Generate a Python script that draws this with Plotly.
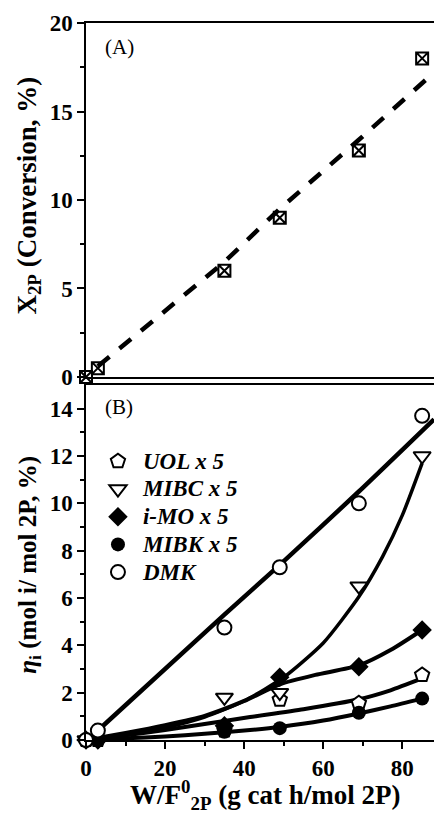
import plotly.graph_objects as go

# ---------------- data ----------------
wf = [0, 3, 35, 49, 69, 85]
x2p = [0, 0.5, 6.0, 9.0, 12.8, 18.0]

fit_a_x = [3, 35, 49, 69, 88]
fit_a_y = [0.6, 6.5, 9.5, 13.4, 17.2]

uol = [0, 0, 0.4, 1.7, 1.55, 2.75]
mibc = [0, 0, 1.8, 2.0, 6.5, 12.0]
imo = [0, 0, 0.6, 2.65, 3.1, 4.65]
mibk = [0, 0, 0.35, 0.5, 1.15, 1.75]
dmk = [0, 0.4, 4.75, 7.3, 10.0, 13.7]

dmk_fit_x = [3, 35, 49, 69, 88]
dmk_fit_y = [0.4, 5.3, 7.4, 10.5, 13.55]
mibc_fit_x = [0, 10, 20, 30, 40, 50, 60, 69, 75, 80, 85]
mibc_fit_y = [0, 0.21, 0.52, 0.97, 1.65, 2.65, 4.1, 6.05, 7.75, 9.5, 11.7]
imo_fit_x = [0, 10, 20, 30, 40, 49, 58, 69, 77, 85]
imo_fit_y = [0, 0.3, 0.63, 1.02, 1.65, 2.35, 2.75, 3.15, 3.8, 4.65]
uol_fit_x = [0, 10, 20, 30, 41.5, 55, 69, 77, 85]
uol_fit_y = [0, 0.2, 0.42, 0.68, 0.97, 1.3, 1.72, 2.1, 2.6]
mibk_fit_x = [0, 10, 20, 30, 41.5, 49, 60, 69, 77, 85]
mibk_fit_y = [0, 0.07, 0.15, 0.26, 0.42, 0.55, 0.82, 1.12, 1.42, 1.75]

legend_names = ["UOL x 5", "MIBC x 5", "i-MO x 5", "MIBK x 5", "DMK"]

# ---------------- figure ----------------
FONT = "Liberation Serif"
fig = go.Figure()

# panel A
fig.add_trace(go.Scatter(x=fit_a_x, y=fit_a_y, mode="lines",
                         line=dict(color="black", width=4.5, dash="15px,13px"),
                         xaxis="x", yaxis="y", showlegend=False, hoverinfo="skip"))
fig.add_trace(go.Scatter(x=wf, y=x2p, mode="markers",
                         marker=dict(symbol="square-x-open", size=12, color="black",
                                     line=dict(width=2, color="black")),
                         xaxis="x", yaxis="y", showlegend=False, cliponaxis=False))

# panel B fit lines
for fx, fy, w in [(dmk_fit_x, dmk_fit_y, 4.5), (mibc_fit_x, mibc_fit_y, 3.5),
                  (imo_fit_x, imo_fit_y, 4), (uol_fit_x, uol_fit_y, 4),
                  (mibk_fit_x, mibk_fit_y, 4)]:
    fig.add_trace(go.Scatter(x=fx, y=fy, mode="lines",
                             line=dict(color="black", width=w, shape="spline", smoothing=0.6),
                             xaxis="x2", yaxis="y2", showlegend=False, hoverinfo="skip"))

series = [
    (uol, "pentagon-open", 15),
    (mibc, "triangle-down-open", 15),
    (imo, "diamond", 15),
    (mibk, "circle", 14),
    (dmk, "circle-open", 14),
]
for (vals, sym, sz), name in zip(series, legend_names):
    open_ = sym.endswith("open")
    fig.add_trace(go.Scatter(
        x=wf, y=vals, mode="markers",
        name='<span style="font-size:23px">' + name + '</span>',
        marker=dict(symbol=sym.replace("-open", "") if open_ else sym, size=sz,
                    color="white" if open_ else "black",
                    line=dict(width=2 if open_ else 0, color="black")),
        xaxis="x2", yaxis="y2", cliponaxis=False))

tickfont = dict(family=FONT, size=23, color="black", weight="bold")

fig.update_layout(
    width=434, height=820,
    margin=dict(l=86, r=0, t=23, b=80),
    paper_bgcolor="white", plot_bgcolor="white",
    font=dict(family=FONT, color="black"),
    xaxis=dict(domain=[0, 1], range=[0, 88], anchor="y", showline=True, mirror=True,
               linecolor="black", linewidth=1.5, showgrid=False, zeroline=False,
               showticklabels=False, ticks=""),
    yaxis=dict(domain=[0.5063, 1], range=[0, 20], anchor="x", showline=True,
               linecolor="black", linewidth=1.5, showgrid=False, zeroline=False,
               tickmode="array", tickvals=[0, 5, 10, 15, 20], ticks="outside",
               ticklen=7, tickwidth=1.5, tickcolor="black", tickfont=tickfont,
               minor=dict(tickvals=[2.5, 7.5, 12.5, 17.5], ticks="outside", ticklen=4,
                          tickwidth=1.5, tickcolor="black")),
    xaxis2=dict(domain=[0, 1], range=[0, 88], anchor="y2", showline=True, mirror=True,
                linecolor="black", linewidth=1.5, showgrid=False, zeroline=False,
                tickmode="array", tickvals=[0, 20, 40, 60, 80], ticks="outside",
                ticklen=7, tickwidth=1.5, tickcolor="black", tickfont=tickfont,
                minor=dict(tickvals=[10, 30, 50, 70], ticks="outside", ticklen=4,
                           tickwidth=1.5, tickcolor="black")),
    yaxis2=dict(domain=[0, 0.4951], range=[0, 15], anchor="x2", showline=True,
                linecolor="black", linewidth=1.5, showgrid=False, zeroline=False,
                tickmode="array", tickvals=[0, 2, 4, 6, 8, 10, 12, 14], ticks="outside",
                ticklen=7, tickwidth=1.5, tickcolor="black", tickfont=tickfont,
                minor=dict(tickvals=[1, 3, 5, 7, 9, 11, 13], ticks="outside", ticklen=4,
                           tickwidth=1.5, tickcolor="black")),
    legend=dict(x=0.02, y=0.415, xanchor="left", yanchor="top",
                bgcolor="rgba(0,0,0,0)", itemwidth=40, tracegroupgap=0,
                font=dict(family=FONT, size=19, color="black", weight="bold", style="italic")),
    showlegend=True,
)

fig.add_annotation(text="(A)", x=0.049, y=0.9665, xref="paper", yref="paper",
                   xanchor="left", yanchor="middle", showarrow=False,
                   font=dict(family=FONT, size=21, color="black"))
fig.add_annotation(text="(B)", x=0.049, y=0.4644, xref="paper", yref="paper",
                   xanchor="left", yanchor="middle", showarrow=False,
                   font=dict(family=FONT, size=21, color="black"))
fig.add_annotation(text="X<sub>2P</sub> (Conversion, %)", x=-0.165, y=0.7587,
                   xref="paper", yref="paper", textangle=-90, showarrow=False,
                   xanchor="center", yanchor="middle",
                   font=dict(family=FONT, size=27, color="black", weight="bold"))
fig.add_annotation(text="<i>η</i><sub>i</sub> (mol i/ mol 2P, %)", x=-0.165, y=0.244,
                   xref="paper", yref="paper", textangle=-90, showarrow=False,
                   xanchor="center", yanchor="middle",
                   font=dict(family=FONT, size=25, color="black", weight="bold"))
fig.add_annotation(text="W/F<sup>0</sup><sub>2P</sub> (g cat h/mol 2P)", x=0.514, y=-0.077,
                   xref="paper", yref="paper", showarrow=False,
                   xanchor="center", yanchor="middle",
                   font=dict(family=FONT, size=27, color="black", weight="bold"))

fig.write_html("out.html")
